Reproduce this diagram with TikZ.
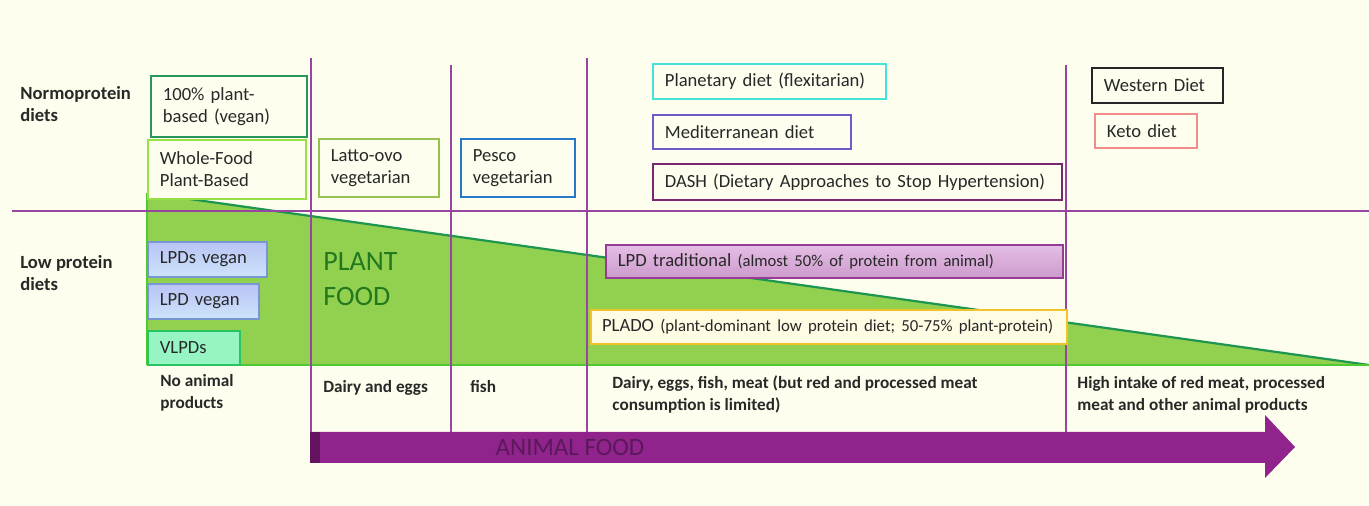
\documentclass[tikz,border=0pt]{standalone}
\usepackage{fontspec}
\setmainfont{Carlito}
\usetikzlibrary{positioning}

\definecolor{cream}{RGB}{254,254,238}
\definecolor{txt}{RGB}{40,40,40}
\definecolor{vline}{RGB}{150,70,160}
\definecolor{plantfill}{RGB}{146,208,80}
\definecolor{planttop}{RGB}{30,150,80}
\definecolor{plantbot}{RGB}{80,200,50}
\definecolor{plantword}{RGB}{35,120,30}
\definecolor{animal}{RGB}{145,35,140}
\definecolor{animaldark}{RGB}{100,20,95}
\definecolor{animalword}{RGB}{90,25,90}
\definecolor{lpdtop}{RGB}{185,195,245}
\definecolor{lpdbot}{RGB}{205,228,250}
\definecolor{tradtop}{RGB}{228,190,228}
\definecolor{tradbot}{RGB}{205,155,205}

\begin{document}
\begin{tikzpicture}[x=0.5pt,y=-0.5pt,
    dbox/.style={draw,line width=0.9pt,fill=cream,anchor=north west,align=left,
                 inner xsep=6pt,inner ysep=0pt,text=txt,
                 font=\fontsize{9.3}{11}\selectfont},
    side/.style={anchor=west,align=left,inner sep=0pt,text=txt,
                 font=\bfseries\fontsize{9.3}{11}\selectfont},
    foot/.style={anchor=north west,align=left,inner sep=0pt,text=txt,
                 font=\bfseries\fontsize{8.6}{11}\selectfont},
    sepline/.style={draw=vline,line width=0.6pt}
  ]
    \fill[cream] (0,0) rectangle (1369,506);
    \useasboundingbox (0,0) rectangle (1369,506);

    % plant food wedge
    \fill[plantfill] (147,193) -- (1369,365) -- (147,365) -- cycle;
    \draw[planttop,line width=1.1pt] (147,193) -- (1369,365);
    \draw[plantbot,line width=1.3pt] (147,365) -- (1369,365);
    \draw[plantbot,line width=0.9pt] (147,193) -- (147,365);

    % grid
    \draw[sepline] (12,211) -- (1369,211);
    \draw[sepline] (311,58) -- (311,432);
    \draw[sepline,line width=0.9pt] (451,65) -- (451,432);
    \draw[sepline] (587,58) -- (587,432);
    \draw[sepline] (1066,65) -- (1066,432);

    \node[side] (normo) at (20,104) {Normoprotein\\diets};
    \node[side] (lowp) at (20,273) {Low protein\\diets};

    % normoprotein diets
    \node[dbox,draw={rgb,255:red,40;green,150;blue,90},text width=66pt,minimum height=30.5pt]
      (vegan) at (150,75) {100\% plant-\\based (vegan)};
    \node[dbox,draw={rgb,255:red,150;green,225;blue,70},text width=67pt,minimum height=29.5pt]
      (wfpb) at (147,139) {Whole-Food\\Plant-Based};
    \node[dbox,draw={rgb,255:red,150;green,195;blue,80},text width=48pt,minimum height=29pt]
      (latto) at (318,138) {Latto-ovo\\vegetarian};
    \node[dbox,draw={rgb,255:red,40;green,120;blue,200},text width=45pt,minimum height=29pt]
      (pesco) at (460,138) {Pesco\\vegetarian};
    \node[dbox,draw={rgb,255:red,70;green,225;blue,215},text width=104.5pt,minimum height=17.5pt]
      (planet) at (652,63) {Planetary diet (flexitarian)};
    \node[dbox,draw={rgb,255:red,110;green,90;blue,200},text width=87pt,minimum height=17pt]
      (medit) at (652,114) {Mediterranean diet};
    \node[dbox,draw={rgb,255:red,120;green,40;blue,110},text width=192.5pt,minimum height=18pt]
      (dash) at (652,163) {DASH (Dietary Approaches to Stop Hypertension)};
    \node[dbox,draw=black!85,text width=53.5pt,minimum height=17.5pt]
      (western) at (1091,67) {Western Diet};
    \node[dbox,draw={rgb,255:red,240;green,140;blue,140},text width=39pt,minimum height=17pt]
      (keto) at (1094,113) {Keto diet};

    % low protein diets
    \node[dbox,draw={rgb,255:red,120;green,150;blue,210},top color=lpdtop,bottom color=lpdbot,
          text width=47.5pt,minimum height=17.5pt] (lpds) at (147,241) {LPDs vegan};
    \node[dbox,draw={rgb,255:red,120;green,150;blue,210},top color=lpdtop,bottom color=lpdbot,
          text width=43.5pt,minimum height=17.5pt] (lpd) at (147,283) {LPD vegan};
    \node[dbox,draw={rgb,255:red,40;green,195;blue,100},fill={rgb,255:red,150;green,245;blue,195},
          text width=34pt,minimum height=17pt] (vlpd) at (147,330) {VLPDs};
    \node[dbox,draw={rgb,255:red,150;green,60;blue,150},top color=tradtop,bottom color=tradbot,
          text width=216.5pt,minimum height=16.5pt] (trad) at (605,244)
          {\mbox{LPD traditional {\fontsize{8.3}{10}\selectfont(almost 50\% of protein from animal)}}};
    \node[dbox,draw={rgb,255:red,240;green,195;blue,40},fill={rgb,255:red,255;green,252;blue,228},
          line width=1.1pt,inner xsep=5.5pt,text width=227pt,minimum height=17pt] (plado) at (590,309)
          {\mbox{PLADO {\fontsize{8.4}{10}\selectfont(plant-dominant low protein diet; 50-75\% plant-protein)}}};

    \node[anchor=north west,align=left,inner sep=0pt,text=plantword,
          font=\fontsize{14}{17.5}\selectfont] (plant) at (323,252) {PLANT\\FOOD};

    % foods
    \node[foot] (nofood) at (160,374) {No animal\\products};
    \node[foot] (dairy) at (323,380) {Dairy and eggs};
    \node[foot] (fish) at (470,380) {fish};
    \node[foot] (mixed) at (612,375) {Dairy, eggs, fish, meat (but red and processed meat\\consumption is limited)};
    \node[foot] (high) at (1077,376) {High intake of red meat, processed\\meat and other animal products};

    % animal food arrow
    \fill[animal] (310,432) -- (1265,432) -- (1265,415) -- (1295,447)
      -- (1265,478) -- (1265,463) -- (310,463) -- cycle;
    \fill[animaldark] (310,432) rectangle (320,463);
    \node[text=animalword,font=\fontsize{12.5}{14}\selectfont] (animalw) at (570,447) {ANIMAL FOOD};
  \end{tikzpicture}
\end{document}
